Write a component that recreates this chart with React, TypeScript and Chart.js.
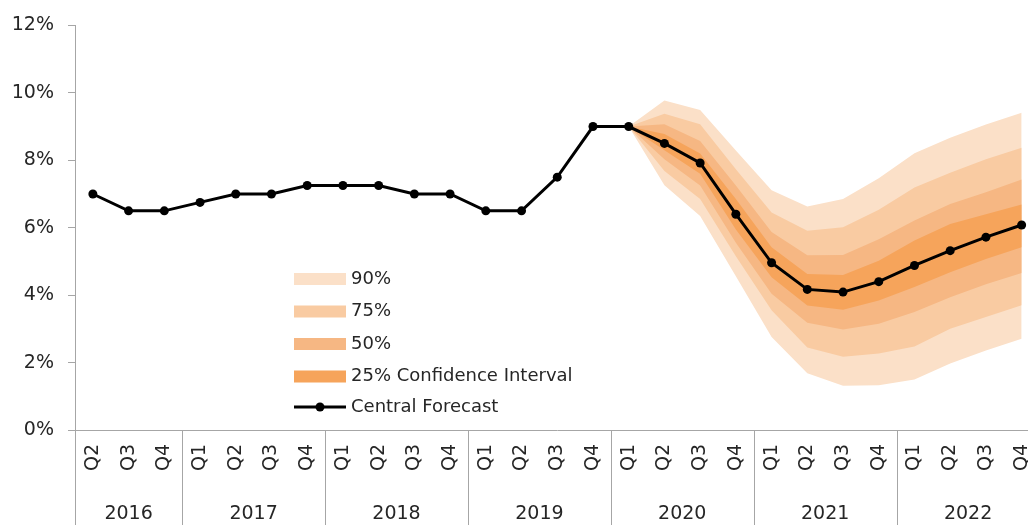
import React, { useEffect, useRef } from "react";
import { Chart, registerables } from "chart.js";

Chart.register(...registerables);

const quarters = [
  "Q2", "Q3", "Q4",
  "Q1", "Q2", "Q3", "Q4",
  "Q1", "Q2", "Q3", "Q4",
  "Q1", "Q2", "Q3", "Q4",
  "Q1", "Q2", "Q3", "Q4",
  "Q1", "Q2", "Q3", "Q4",
  "Q1", "Q2", "Q3", "Q4",
];
const years = ["2016", "2017", "2018", "2019", "2020", "2021", "2022"];
const yearCounts = [3, 4, 4, 4, 4, 4, 4];

const central = [
  7.0, 6.5, 6.5, 6.75, 7.0, 7.0, 7.25, 7.25, 7.25, 7.0, 7.0, 6.5, 6.5, 7.5, 9.0,
  9.0, 8.5, 7.92, 6.4, 4.96, 4.17, 4.09, 4.4, 4.88, 5.32, 5.72, 6.08,
];

// fan values from 2020 Q1 onward (earlier quarters have no band)
const bandStart = 15;
const upper90 = [9.0, 9.77, 9.49, 8.29, 7.11, 6.63, 6.85, 7.47, 8.21, 8.67, 9.06, 9.41];
const upper75 = [9.0, 9.38, 9.07, 7.73, 6.45, 5.91, 6.01, 6.53, 7.19, 7.63, 8.03, 8.37];
const upper50 = [9.0, 9.07, 8.57, 7.25, 5.87, 5.18, 5.19, 5.66, 6.21, 6.7, 7.05, 7.43];
const upper25 = [9.0, 8.78, 8.2, 6.85, 5.42, 4.63, 4.6, 5.02, 5.62, 6.11, 6.4, 6.69];
const lower25 = [9.0, 8.3, 7.6, 5.95, 4.53, 3.69, 3.57, 3.84, 4.24, 4.68, 5.07, 5.42];
const lower50 = [9.0, 8.03, 7.25, 5.55, 4.04, 3.18, 2.98, 3.15, 3.5, 3.94, 4.32, 4.66];
const lower75 = [9.0, 7.68, 6.85, 5.15, 3.55, 2.45, 2.17, 2.27, 2.48, 3.0, 3.35, 3.7];
const lower90 = [9.0, 7.26, 6.35, 4.56, 2.76, 1.68, 1.31, 1.33, 1.5, 1.97, 2.36, 2.71];

const yTicks = [0, 2, 4, 6, 8, 10, 12];

const bandLabels = ["90%", "75%", "50%", "25% Confidence Interval"];
const bandColors = ["#FBE0C8", "#F9CBA2", "#F6B783", "#F6A45B"];
const centralLabel = "Central Forecast";

const FONT = "'DejaVu Sans', 'Century Gothic', sans-serif";
const TEXT = "#262626";
const AXIS = "#A6A6A6";

const pad = (arr: number[]) => {
  const out: (number | null)[] = quarters.map(() => null);
  arr.forEach((v, i) => (out[bandStart + i] = v));
  return out;
};

const yearAxisPlugin = {
  id: "yearAxis",
  afterDraw(chart: any) {
    const { ctx, chartArea, scales } = chart;
    const x = scales.x;
    const step = x.getPixelForValue(1) - x.getPixelForValue(0);
    const h = chart.height;
    ctx.save();
    ctx.strokeStyle = AXIS;
    ctx.lineWidth = 1;
    let idx = 0;
    const bounds: number[] = [x.getPixelForValue(0) - step / 2];
    years.forEach((y, i) => {
      const start = x.getPixelForValue(idx) - step / 2;
      idx += yearCounts[i];
      const end = x.getPixelForValue(idx - 1) + step / 2;
      bounds.push(end);
      ctx.fillStyle = TEXT;
      ctx.font = `19px ${FONT}`;
      ctx.textAlign = "center";
      ctx.textBaseline = "middle";
      ctx.fillText(y, (start + end) / 2, 514);
    });
    bounds.forEach((b) => {
      const px = Math.round(b) + 0.5;
      ctx.beginPath();
      ctx.moveTo(px, chartArea.bottom);
      ctx.lineTo(px, h);
      ctx.stroke();
    });
    ctx.restore();
  },
};

const legendPlugin = {
  id: "customLegend",
  afterDraw(chart: any) {
    const { ctx, chartArea } = chart;
    const x0 = chartArea.left + 219;
    const rows = [279, 311.5, 344, 376.5, 407];
    ctx.save();
    ctx.font = `18px ${FONT}`;
    ctx.textBaseline = "middle";
    ctx.textAlign = "left";
    bandLabels.forEach((lab, i) => {
      ctx.fillStyle = bandColors[i];
      ctx.fillRect(x0, rows[i] - 6, 52, 12);
      ctx.fillStyle = TEXT;
      ctx.fillText(lab, x0 + 57, rows[i]);
    });
    const ry = rows[4];
    ctx.strokeStyle = "#000";
    ctx.lineWidth = 3;
    ctx.beginPath();
    ctx.moveTo(x0, ry);
    ctx.lineTo(x0 + 52, ry);
    ctx.stroke();
    ctx.fillStyle = "#000";
    ctx.beginPath();
    ctx.arc(x0 + 26, ry, 4.5, 0, Math.PI * 2);
    ctx.fill();
    ctx.fillStyle = TEXT;
    ctx.fillText(centralLabel, x0 + 57, ry);
    ctx.restore();
  },
};

export default function App() {
  const ref = useRef<HTMLCanvasElement | null>(null);
  useEffect(() => {
    document.body.style.margin = "0";
    document.body.style.overflow = "hidden";
    const band = (data: number[], color: string | null) => ({
      data: pad(data),
      borderWidth: 0,
      pointRadius: 0,
      pointHoverRadius: 0,
      backgroundColor: color || "transparent",
      borderColor: "transparent",
      fill: color ? "+1" : false,
      tension: 0,
    });
    const chart = new Chart(ref.current as HTMLCanvasElement, {
      type: "line",
      data: {
        labels: quarters,
        datasets: [
          {
            label: centralLabel,
            data: central,
            borderColor: "#000",
            backgroundColor: "#000",
            borderWidth: 3,
            pointRadius: 4.5,
            pointBackgroundColor: "#000",
            pointBorderWidth: 0,
            fill: false,
            tension: 0,
          } as any,
          band(upper25, bandColors[3]),
          band(lower25, null),
          band(upper50, bandColors[2]),
          band(lower50, null),
          band(upper75, bandColors[1]),
          band(lower75, null),
          band(upper90, bandColors[0]),
          band(lower90, null),
        ],
      },
      options: {
        animation: false,
        responsive: false,
        layout: { padding: { top: 24, right: 1, left: 0, bottom: 0 } },
        plugins: {
          legend: { display: false },
          tooltip: { enabled: false },
        },
        scales: {
          x: {
            type: "category",
            offset: true,
            grid: { display: false, drawTicks: false },
            border: { display: true, color: AXIS, width: 1 },
            ticks: {
              autoSkip: false,
              minRotation: 90,
              maxRotation: 90,
              padding: 14,
              color: TEXT,
              font: { family: FONT, size: 19 },
            },
            afterFit: (s: any) => {
              s.height = 110;
              s.paddingLeft = 0;
              s.paddingRight = 0;
            },
          },
          y: {
            min: 0,
            max: 12,
            afterBuildTicks: (s: any) => {
              s.ticks = yTicks.map((v) => ({ value: v }));
            },
            grid: {
              drawOnChartArea: false,
              drawTicks: true,
              tickLength: 7,
              color: AXIS,
            },
            border: { display: true, color: AXIS, width: 1 },
            ticks: {
              padding: 14,
              color: TEXT,
              font: { family: FONT, size: 19 },
              callback: (v: any) => `${v}%`,
            },
            afterFit: (s: any) => {
              s.width = 75;
            },
          },
        },
      } as any,
      plugins: [yearAxisPlugin, legendPlugin],
    });
    return () => chart.destroy();
  }, []);
  return (
    <div style={{ position: "fixed", left: 0, top: 0, width: 1028, height: 525, overflow: "hidden", background: "#fff" }}>
      <canvas ref={ref} width={1044} height={540} style={{ display: "block" }} />
    </div>
  );
}
